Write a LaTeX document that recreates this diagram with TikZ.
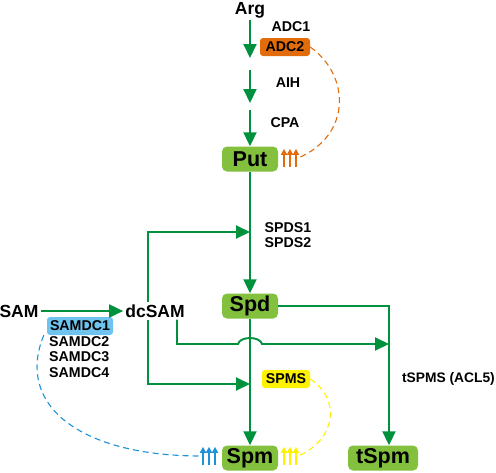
\documentclass[tikz,border=0pt]{standalone}
\usepackage{fontspec}
\setmainfont{Liberation Sans}
\usetikzlibrary{arrows.meta}

\definecolor{pathgreen}{HTML}{00913F}
\definecolor{boxgreen}{HTML}{82C03E}
\definecolor{adcorange}{HTML}{E36C0A}
\definecolor{samblue}{HTML}{6EC4EE}
\definecolor{lineblue}{HTML}{1C93D8}
\definecolor{spmsyellow}{HTML}{FFF200}

\begin{document}
\begin{tikzpicture}[
    x=1pt, y=-1pt,
    flow/.style={draw=pathgreen, line width=1.9pt, -{Triangle[length=14pt,width=13pt]}},
    metab/.style={rectangle, rounded corners=5pt, fill=boxgreen, minimum height=25pt, minimum width=56pt, inner sep=2pt, font=\fontsize{21.5}{21.5}\selectfont\bfseries},
    plain/.style={inner sep=2pt, font=\fontsize{17.5}{17.5}\selectfont\bfseries},
    enz/.style={inner sep=1pt, font=\fontsize{14.2}{15.5}\selectfont\bfseries},
    enzbox/.style={rectangle, rounded corners=3pt, minimum height=18pt, inner sep=2pt, font=\fontsize{14.2}{15}\selectfont\bfseries},
    feedback/.style={line width=1.1pt, dash pattern=on 6pt off 4pt},
    upset/.style={inner sep=0pt, minimum width=16pt, minimum height=18pt},
    tri/.style={line width=1.5pt, -{Triangle[length=6pt,width=6pt]}}
]
\useasboundingbox (0,0) rectangle (496,472);

% Nodes
\node[plain] (v0) at (250,10) {Arg};
\node[metab] (v1) at (250,159) {Put};
\node[metab] (v2) at (250,306) {Spd};
\node[metab] (v3) at (250,458) {Spm};
\node[metab, minimum width=70pt] (v4) at (383,458) {tSpm};
\node[plain] (v5) at (19,311) {SAM};
\node[plain] (v6) at (155,311) {dcSAM};

% Enzymes
\node[enz] (e0) at (291,27) {ADC1};
\node[enzbox, fill=adcorange, minimum width=50pt] (e1) at (285,47) {ADC2};
\node[enz] (e2) at (288,83) {AIH};
\node[enz] (e3) at (285,123) {CPA};
\node[enz, align=left] (e4) at (288,235) {SPDS1\\SPDS2};
\node[enzbox, fill=samblue, minimum width=66pt] (e5) at (80,326) {SAMDC1};
\node[enz, anchor=north west, align=left] (e6) at (48,335) {SAMDC2\\SAMDC3\\SAMDC4};
\node[enzbox, fill=spmsyellow, minimum width=48pt] (e7) at (286,379) {SPMS};
\node[enz, anchor=east, font=\fontsize{13.8}{15}\selectfont\bfseries] (e8) at (496,379) {tSPMS (ACL5)};

% Induction marks
\node[upset] (u0) at (290,158) {};
\node[upset] (u1) at (209,456) {};
\node[upset] (u2) at (290,456) {};
\foreach \d in {-6,0,6} {
  \draw[tri, adcorange] ([xshift=\d]u0.south) -- ([xshift=\d]u0.north);
  \draw[tri, lineblue] ([xshift=\d]u1.south) -- ([xshift=\d]u1.north);
  \draw[tri, spmsyellow] ([xshift=\d]u2.south) -- ([xshift=\d]u2.north);
}

% Joints
\coordinate (s1) at (250,58);
\coordinate (s2) at (250,70);
\coordinate (s3) at (250,103);
\coordinate (s4) at (250,110);
\coordinate (j0) at (250,232);
\coordinate (j1) at (250,384);
\coordinate (j2) at (389,344);

% Arrows
\draw[flow] (v0) -- (s1);
\draw[flow] (s2) -- (s3);
\draw[flow] (s4) -- (v1);
\draw[flow] (v1) -- (v2);
\draw[flow] (v2) -- (v3);
\draw[flow] (v5) -- (v6);
\draw[flow] ([xshift=-7pt]v6.north) |- (j0);
\draw[flow] ([xshift=-7pt]v6.south) |- (j1);
\draw[flow] ([xshift=22pt]v6.south) |- (238,344)
  .. controls (240,336) and (260,336) .. (262,344) -- (j2);
\draw[flow] (v2.east) -| (v4.north -| j2);

% Feedback
\draw[feedback, adcorange] (e1.east) .. controls (350,75) and (352,135) .. (u0.east);
\draw[feedback, lineblue] ([xshift=-3pt]e5.south west) .. controls (15,405) and (80,456) .. (u1.west);
\draw[feedback, spmsyellow] (e7.east) .. controls (342,400) and (335,440) .. (u2.east);

\end{tikzpicture}
\end{document}
